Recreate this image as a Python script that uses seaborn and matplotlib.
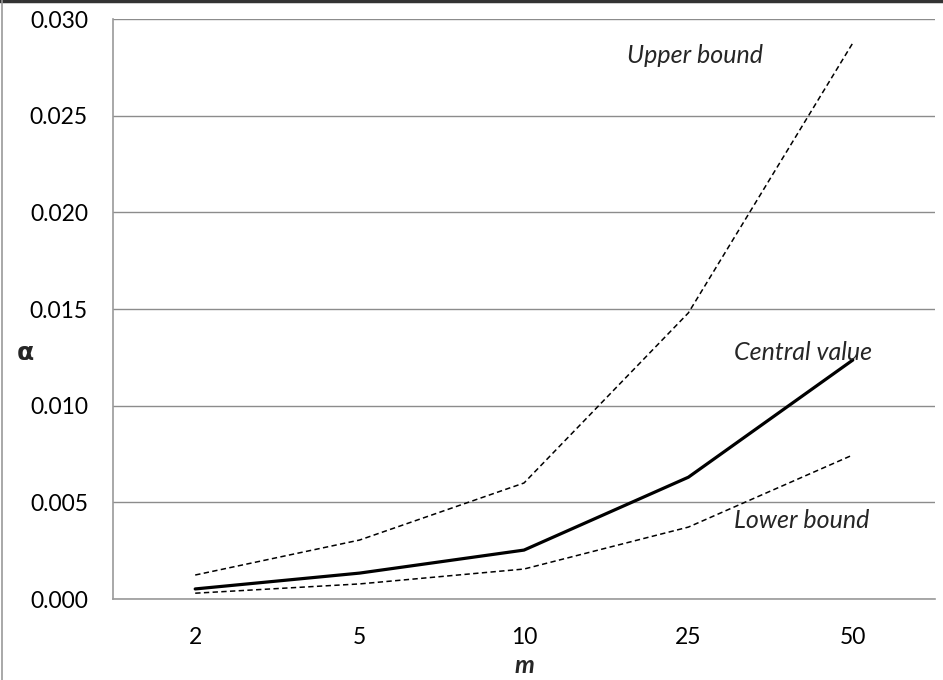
import pandas as pd
import matplotlib.pyplot as plt
import seaborn as sns
from matplotlib.lines import Line2D

# values
m_values = ['2', '5', '10', '25', '50']
upper_bound = [0.00124, 0.00305, 0.0060, 0.0148, 0.02876]
central_value = [0.00052, 0.00134, 0.00253, 0.0063, 0.01236]
lower_bound = [0.0003, 0.00078, 0.00155, 0.00372, 0.00745]
y_ticks = [0.000, 0.005, 0.010, 0.015, 0.020, 0.025, 0.030]

df = pd.DataFrame({
    'm': m_values * 3,
    'alpha': upper_bound + central_value + lower_bound,
    'series': ['Upper bound'] * 5 + ['Central value'] * 5 + ['Lower bound'] * 5,
})

sns.set_theme(style='white')
plt.rcParams['font.family'] = ['Lato', 'DejaVu Sans']

fig = plt.figure(figsize=(9.43, 6.8), dpi=100)
ax = fig.add_axes([113 / 943, 1 - 599 / 680, 822 / 943, 580 / 680])

sns.lineplot(data=df, x='m', y='alpha', hue='series', style='series',
             size='series',
             palette={'Upper bound': 'black', 'Central value': 'black', 'Lower bound': 'black'},
             dashes={'Upper bound': (3.5, 2.2), 'Central value': '', 'Lower bound': (3.5, 2.2)},
             sizes={'Upper bound': 1.1, 'Central value': 2.3, 'Lower bound': 1.1},
             legend=False, ax=ax)

ax.set_xlim(-0.5, 4.5)
ax.set_ylim(0, 0.030)
ax.set_yticks(y_ticks)
ax.set_yticklabels([f'{v:.3f}' for v in y_ticks])
ax.yaxis.grid(True, color='#8c8c8c', linewidth=1.0)
ax.set_axisbelow(True)
ax.tick_params(axis='y', length=0, pad=18, labelsize=16.5, colors='black')
ax.tick_params(axis='x', length=0, pad=20, labelsize=16.5, colors='black')

for side in ['top', 'right']:
    ax.spines[side].set_visible(False)
for side in ['left', 'bottom']:
    ax.spines[side].set_color('#9a9a9a')
    ax.spines[side].set_linewidth(1.2)

ax.set_xlabel('m', fontsize=18, fontweight='bold', fontstyle='italic', labelpad=0)
ax.set_ylabel('α', fontsize=18, fontweight='bold', rotation=0, labelpad=0,
              ha='center', va='center', family=['DejaVu Sans'])
ax.xaxis.set_label_coords(0.5, -0.095)
ax.yaxis.set_label_coords(-0.107, 0.425)

ax.text(0.625, 0.937, 'Upper bound', transform=ax.transAxes, fontsize=18,
        fontstyle='italic', ha='left', va='center')
ax.text(0.755, 0.425, 'Central value', transform=ax.transAxes, fontsize=18,
        fontstyle='italic', ha='left', va='center')
ax.text(0.755, 0.136, 'Lower bound', transform=ax.transAxes, fontsize=18,
        fontstyle='italic', ha='left', va='center')

# screenshot frame: dark top edge, grey left edge
fig.add_artist(Line2D([0, 1], [0.998, 0.998], transform=fig.transFigure,
                      color='#333333', linewidth=2.5))
fig.add_artist(Line2D([0.002, 0.002], [0, 1], transform=fig.transFigure,
                      color='#9a9a9a', linewidth=1.2))

fig.savefig('out.png', dpi=100)
